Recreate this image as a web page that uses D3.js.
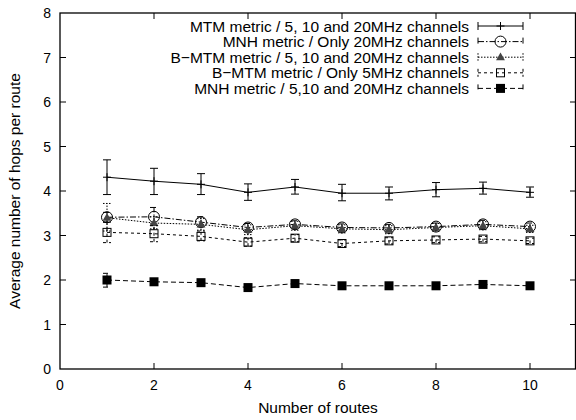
<!DOCTYPE html>
<html>
<head>
<meta charset="utf-8">
<script src="https://cdn.jsdelivr.net/npm/d3@7"></script>
<style>
  body { margin: 0; background: #fff; }
  svg { display: block; }
  text { font-family: "Liberation Sans", Arial, sans-serif; fill: #000; }
</style>
</head>
<body>
<div class="chart"></div>
<script>
var width = 576, height = 420;

// data
var routes = [1, 2, 3, 4, 5, 6, 7, 8, 9, 10];
var seriesNames = [
  "MTM metric / 5, 10 and 20MHz channels",
  "MNH metric / Only 20MHz channels",
  "B\u2212MTM metric / 5, 10 and 20MHz channels",
  "B\u2212MTM metric / Only 5MHz channels",
  "MNH metric / 5,10 and 20MHz channels"
];
var mtmAll     = [4.31, 4.22, 4.15, 3.97, 4.09, 3.95, 3.95, 4.03, 4.06, 3.97];
var mtmAllLo   = [3.92, 3.92, 3.92, 3.79, 3.93, 3.78, 3.80, 3.87, 3.93, 3.86];
var mtmAllHi   = [4.70, 4.51, 4.39, 4.16, 4.26, 4.15, 4.09, 4.19, 4.20, 4.09];
var mnh20      = [3.41, 3.42, 3.30, 3.18, 3.25, 3.18, 3.17, 3.20, 3.25, 3.20];
var mnh20Lo    = [3.30, 3.26, 3.20, 3.10, 3.16, 3.10, 3.10, 3.12, 3.16, 3.12];
var mnh20Hi    = [3.52, 3.63, 3.42, 3.27, 3.33, 3.26, 3.25, 3.28, 3.34, 3.28];
var bmtmAll    = [3.40, 3.28, 3.25, 3.13, 3.22, 3.15, 3.13, 3.18, 3.22, 3.15];
var bmtmAllLo  = [3.10, 3.15, 3.12, 3.02, 3.12, 3.06, 3.04, 3.10, 3.13, 3.07];
var bmtmAllHi  = [3.72, 3.42, 3.38, 3.24, 3.32, 3.24, 3.22, 3.27, 3.31, 3.23];
var bmtm5      = [3.07, 3.04, 2.98, 2.85, 2.94, 2.82, 2.88, 2.90, 2.92, 2.88];
var bmtm5Lo    = [2.84, 2.86, 2.88, 2.76, 2.86, 2.75, 2.81, 2.84, 2.86, 2.82];
var bmtm5Hi    = [3.30, 3.22, 3.10, 2.95, 3.02, 2.90, 2.95, 2.97, 2.98, 2.94];
var mnhAll     = [2.00, 1.96, 1.94, 1.83, 1.92, 1.87, 1.87, 1.87, 1.90, 1.87];
var mnhAllLo   = [1.84, 1.90, 1.89, 1.79, 1.88, 1.83, 1.83, 1.83, 1.86, 1.83];
var mnhAllHi   = [2.15, 2.02, 1.99, 1.87, 1.96, 1.91, 1.91, 1.91, 1.94, 1.91];
var xTicks = [0, 2, 4, 6, 8, 10];
var yTicks = [0, 1, 2, 3, 4, 5, 6, 7, 8];

var series = [
  { name: seriesNames[0], y: mtmAll,  lo: mtmAllLo,  hi: mtmAllHi,  dash: null,        mark: "plus" },
  { name: seriesNames[1], y: mnh20,   lo: mnh20Lo,   hi: mnh20Hi,   dash: "6,2,1.5,2", mark: "circle" },
  { name: seriesNames[2], y: bmtmAll, lo: bmtmAllLo, hi: bmtmAllHi, dash: "1.5,1.5",   mark: "triangle" },
  { name: seriesNames[3], y: bmtm5,   lo: bmtm5Lo,   hi: bmtm5Hi,   dash: "3,3",       mark: "square" },
  { name: seriesNames[4], y: mnhAll,  lo: mnhAllLo,  hi: mnhAllHi,  dash: "5,3",       mark: "fsquare" }
];

var pLeft = 60, pRight = 576, pTop = 13, pBottom = 369;

var x = d3.scaleLinear().domain([0, 11]).range([pLeft, pLeft + 11 * 47]);
var y = d3.scaleLinear().domain([0, 8]).range([pBottom, pTop]);

var svg = d3.select(".chart").append("svg")
  .attr("width", width)
  .attr("height", height);

// frame
svg.append("rect")
  .attr("x", pLeft).attr("y", pTop)
  .attr("width", pRight - 0.5 - pLeft).attr("height", pBottom - pTop)
  .attr("fill", "none").attr("stroke", "#000").attr("stroke-width", 1.3);

// mirrored ticks, gnuplot style
var tick = 6;
var tg = svg.append("g").attr("stroke", "#000").attr("stroke-width", 1);
xTicks.forEach(function (t) {
  if (t === 0) return;
  tg.append("line").attr("x1", x(t)).attr("x2", x(t)).attr("y1", pBottom).attr("y2", pBottom - tick);
  tg.append("line").attr("x1", x(t)).attr("x2", x(t)).attr("y1", pTop).attr("y2", pTop + tick);
});
yTicks.forEach(function (t) {
  if (t === 0 || t === 8) return;
  tg.append("line").attr("x1", pLeft).attr("x2", pLeft + tick).attr("y1", y(t)).attr("y2", y(t));
  tg.append("line").attr("x1", pRight).attr("x2", pRight - tick).attr("y1", y(t)).attr("y2", y(t));
});

svg.append("g").selectAll("text")
  .data(xTicks).enter().append("text")
  .attr("x", function (d) { return x(d); })
  .attr("y", pBottom + 21)
  .attr("text-anchor", "middle")
  .attr("font-size", 14)
  .text(function (d) { return d; });

svg.append("g").selectAll("text")
  .data(yTicks).enter().append("text")
  .attr("x", pLeft - 9)
  .attr("y", function (d) { return y(d) + 5; })
  .attr("text-anchor", "end")
  .attr("font-size", 14)
  .text(function (d) { return d; });

svg.append("text")
  .attr("x", 318).attr("y", 413)
  .attr("text-anchor", "middle")
  .attr("font-size", 15.5)
  .text("Number of routes");

svg.append("text")
  .attr("transform", "translate(20," + 191 + ") rotate(-90)")
  .attr("text-anchor", "middle")
  .attr("font-size", 15.5)
  .text("Average number of hops per route");

function drawMark(g, kind, cx, cy) {
  if (kind === "plus") {
    g.append("path").attr("d", "M" + (cx - 4) + "," + cy + "h8M" + cx + "," + (cy - 4) + "v8")
      .attr("stroke", "#000").attr("fill", "none");
  } else if (kind === "circle") {
    g.append("circle").attr("cx", cx).attr("cy", cy).attr("r", 5.5)
      .attr("stroke", "#000").attr("fill", "none");
  } else if (kind === "triangle") {
    g.append("path").attr("d", d3.symbol(d3.symbolTriangle, 34)())
      .attr("transform", "translate(" + cx + "," + (cy + 0.5) + ")")
      .attr("fill", "#444").attr("stroke", "none");
  } else if (kind === "square") {
    g.append("rect").attr("x", cx - 4).attr("y", cy - 4).attr("width", 8).attr("height", 8)
      .attr("stroke", "#000").attr("fill", "none");
  } else if (kind === "fsquare") {
    g.append("rect").attr("x", cx - 4.5).attr("y", cy - 4.5).attr("width", 9).attr("height", 9)
      .attr("fill", "#000");
  }
}

var line = d3.line()
  .x(function (d) { return x(d[0]); })
  .y(function (d) { return y(d[1]); });

series.forEach(function (s, si) {
  var g = svg.append("g");
  var pts = routes.map(function (r, i) { return [r, s.y[i]]; });
  g.append("path")
    .attr("d", line(pts))
    .attr("fill", "none")
    .attr("stroke", "#000")
    .attr("stroke-width", 1)
    .attr("stroke-dasharray", s.dash);
  routes.forEach(function (r, i) {
    var cx = x(r);
    g.append("path")
      .attr("d", "M" + cx + "," + y(s.lo[i]) + "V" + y(s.hi[i]) +
        "M" + (cx - 4) + "," + y(s.lo[i]) + "h8" +
        "M" + (cx - 4) + "," + y(s.hi[i]) + "h8")
      .attr("fill", "none")
      .attr("stroke", "#000")
      .attr("stroke-width", 1)
      .attr("stroke-dasharray", s.dash);
    drawMark(g, s.mark, cx, y(s.y[i]));
  });

  // legend row
  var ly = 26 + si * 15.6;
  svg.append("text")
    .attr("x", 469).attr("y", ly + 5.5)
    .attr("text-anchor", "end")
    .attr("font-size", 15.5)
    .text(s.name);
  var lg = svg.append("g");
  lg.append("path")
    .attr("d", "M478," + ly + "H523M478," + (ly - 4) + "v8M523," + (ly - 4) + "v8")
    .attr("fill", "none").attr("stroke", "#000").attr("stroke-width", 1)
    .attr("stroke-dasharray", s.dash);
  drawMark(lg, s.mark, 500.5, ly);
});
</script>
</body>
</html>
